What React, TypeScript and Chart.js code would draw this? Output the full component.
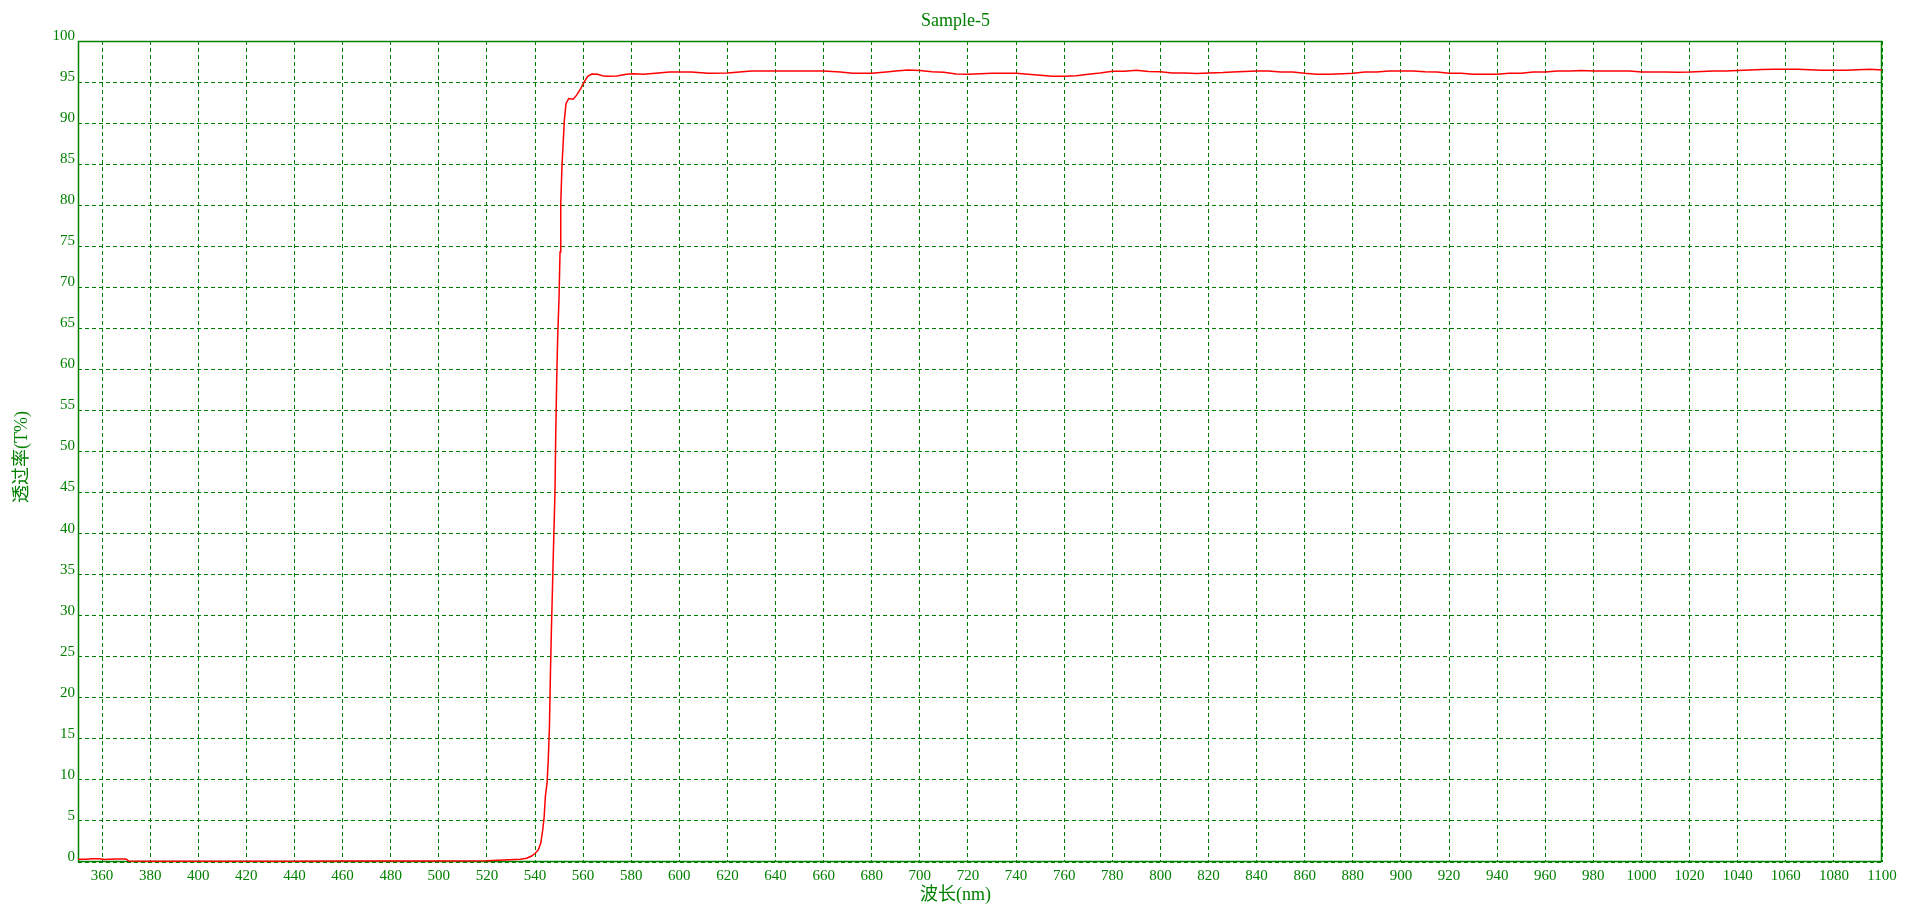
import { useEffect, useRef } from 'react';
import { Chart, registerables } from 'chart.js';

Chart.register(...registerables);

const TITLE = 'Sample-5';
const X_TITLE = '波长(nm)';
const Y_TITLE = '透过率(T%)';
const GREEN = '#008000';
const LINE_RED = '#ff0000';

const wavelength = [
  350, 353, 356, 359, 361, 363, 366, 370, 371, 380, 400, 420, 440, 460, 480, 500, 520, 527, 534,
  536.5, 538.6, 540.1, 541.4, 542.4, 543.2, 543.8, 544.3, 545.0, 545.5, 546.0, 546.4, 546.8, 547.2,
  547.6, 548.3, 548.6, 549.0, 549.4, 550.0, 550.4, 550.7, 551.2, 551.8, 552.2, 552.9, 554.0, 555.9,
  557.3, 559.0, 560.4, 561.9, 563.6, 566, 568, 570, 574, 578, 581, 585, 590, 596, 605, 612, 620, 625,
  630, 640, 650, 660, 667, 672, 680, 686, 690, 695, 700, 705, 710, 715, 720, 730, 740, 745, 750, 755,
  760, 765, 770, 775, 780, 785, 790, 795, 800, 805, 810, 815, 820, 826, 830, 835, 840, 845, 850, 855,
  860, 865, 870, 876, 880, 885, 890, 895, 900, 905, 910, 915, 920, 925, 930, 935, 940, 945, 950, 955,
  960, 965, 970, 975, 980, 985, 990, 995, 1000, 1005, 1010, 1015, 1020, 1025, 1030, 1035, 1040, 1045,
  1050, 1055, 1060, 1065, 1070, 1075, 1080, 1085, 1090, 1095, 1100,
];

const transmittance = [
  0.33, 0.33, 0.4, 0.4, 0.3, 0.35, 0.37, 0.37, 0.12, 0.1, 0.1, 0.1, 0.1, 0.13, 0.12, 0.12, 0.16, 0.24, 0.33,
  0.45, 0.73, 1.06, 1.5, 2.3, 3.9, 5.5, 8.0, 9.6, 12.4, 16.5, 22.8, 28.1, 32.7,
  37.4, 45.0, 51.8, 58.5, 63.6, 68.9, 74.3, 80.2, 84.7, 88.1, 90.4, 92.4, 93.0, 92.9,
  93.4, 94.2, 95.0, 95.7, 95.98, 95.94, 95.78, 95.7, 95.75, 95.94, 96.0, 95.94, 96.06, 96.22, 96.22, 96.06, 96.1, 96.22,
  96.35, 96.35, 96.35, 96.35, 96.22, 96.06, 96.06, 96.22, 96.35, 96.47, 96.4, 96.25, 96.18, 95.98, 95.94, 96.06, 96.06, 95.94, 95.82, 95.7,
  95.7, 95.78, 95.94, 96.1, 96.31, 96.31, 96.43, 96.3, 96.26, 96.1, 96.1, 96.05, 96.1, 96.15, 96.22, 96.3, 96.35, 96.35, 96.22, 96.22,
  96.06, 95.94, 95.94, 96.0, 96.06, 96.22, 96.22, 96.35, 96.35, 96.35, 96.25, 96.22, 96.06, 96.06, 95.94, 95.94, 95.94, 96.06, 96.06, 96.22,
  96.22, 96.35, 96.35, 96.4, 96.35, 96.35, 96.35, 96.35, 96.22, 96.22, 96.22, 96.2, 96.22, 96.3, 96.35, 96.35, 96.4, 96.47,
  96.52, 96.55, 96.55, 96.55, 96.5, 96.45, 96.45, 96.45, 96.5, 96.55, 96.47,
];

const xTicks = [
  360, 380, 400, 420, 440, 460, 480, 500, 520, 540, 560, 580, 600, 620, 640, 660, 680, 700, 720,
  740, 760, 780, 800, 820, 840, 860, 880, 900, 920, 940, 960, 980, 1000, 1020, 1040, 1060, 1080, 1100,
];
const yTicks = [0, 5, 10, 15, 20, 25, 30, 35, 40, 45, 50, 55, 60, 65, 70, 75, 80, 85, 90, 95, 100];

const SERIF = '"Liberation Serif", "Times New Roman", serif';
const TITLE_FONT = '18px "Liberation Serif", "Noto Sans CJK SC", serif';

const framePlugin = {
  id: 'frame',
  beforeDatasetsDraw(chart: any) {
    const { ctx, chartArea } = chart;
    const { left, top, right, bottom } = chartArea;
    ctx.save();
    ctx.strokeStyle = GREEN;
    ctx.lineWidth = 1.5;
    ctx.strokeRect(left + 0.5, top + 0.5, right - left - 1, bottom - top - 1);
    ctx.restore();
  },
  afterDraw(chart: any) {
    const ctx = chart.ctx;
    ctx.save();
    ctx.fillStyle = GREEN;
    ctx.textAlign = 'center';
    ctx.textBaseline = 'middle';
    ctx.font = TITLE_FONT;
    ctx.fillText(TITLE, chart.width / 2, 21);
    ctx.fillText(X_TITLE, chart.width / 2, 895);
    ctx.translate(22, 457);
    ctx.rotate(-Math.PI / 2);
    ctx.fillText(Y_TITLE, 0, 0);
    ctx.restore();
  },
};

export default function App() {
  const canvasRef = useRef<HTMLCanvasElement | null>(null);

  useEffect(() => {
    if (!canvasRef.current) return;
    const tickFont = { family: SERIF, size: 15 };
    const chart = new Chart(canvasRef.current, {
      type: 'line',
      data: {
        datasets: [
          {
            data: wavelength.map((x, i) => ({ x, y: transmittance[i] })),
            borderColor: LINE_RED,
            borderWidth: 1.5,
            pointRadius: 0,
            tension: 0,
            fill: false,
          },
        ],
      },
      options: {
        animation: false,
        responsive: false,
        devicePixelRatio: 1,
        layout: { padding: { left: 0, top: 41, right: 29, bottom: 0 } },
        plugins: {
          legend: { display: false },
          tooltip: { enabled: false },
          title: { display: false },
        },
        scales: {
          x: {
            type: 'linear',
            min: 350,
            max: 1100,
            afterBuildTicks: (s: any) => {
              s.ticks = xTicks.map((v) => ({ value: v }));
            },
            afterFit: (s: any) => {
              s.height = 51;
            },
            grid: { color: GREEN, lineWidth: 1, drawTicks: false },
            border: { display: false, dash: [4, 3] },
            ticks: {
              color: GREEN,
              font: tickFont,
              padding: 5,
              maxRotation: 0,
              autoSkip: false,
              callback: (v: any) => String(v),
            },
          },
          y: {
            type: 'linear',
            min: 0,
            max: 100,
            afterBuildTicks: (s: any) => {
              s.ticks = yTicks.map((v) => ({ value: v }));
            },
            afterFit: (s: any) => {
              s.width = 78;
            },
            grid: { color: GREEN, lineWidth: 1, drawTicks: false },
            border: { display: false, dash: [4, 3] },
            ticks: {
              color: GREEN,
              font: tickFont,
              padding: 3,
              labelOffset: -5,
              autoSkip: false,
              callback: (v: any) => String(v),
            },
          },
        },
      },
      plugins: [framePlugin],
    } as any);
    return () => chart.destroy();
  }, []);

  return (
    <div style={{ position: 'absolute', left: 0, top: 0, width: 1911, height: 913, background: '#fff' }}>
      <canvas ref={canvasRef} width={1911} height={913} style={{ display: 'block' }} />
    </div>
  );
}
